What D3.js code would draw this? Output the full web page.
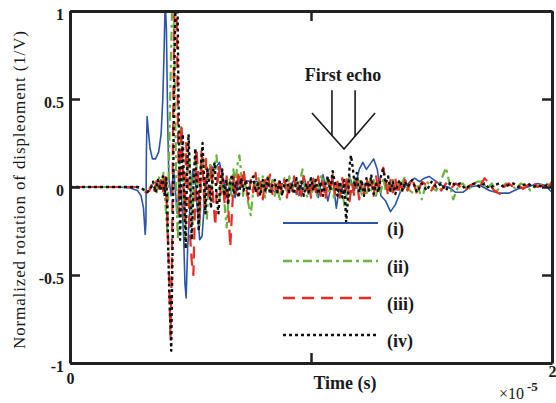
<!DOCTYPE html>
<html>
<head>
<meta charset="utf-8">
<script src="https://cdn.jsdelivr.net/npm/d3@7"></script>
<style>
  body { margin: 0; background: #fff; }
  text { font-family: "Liberation Serif", "Times New Roman", serif; fill: #1a1a1a; }
</style>
</head>
<body>
<svg id="chart" width="556" height="403"></svg>
<script>
// time in microseconds (axis shows units of 1e-5 s), normalized rotation (1/V)
var seriesI = [[0,0],[2.0,0],[2.5,-0.005],[2.8,-0.02],[2.95,-0.05],[3.05,-0.12],[3.12,-0.27],[3.15,-0.2],[3.17,0.2],[3.2,0.4],[3.25,0.32],[3.32,0.22],[3.42,0.16],[3.55,0.16],[3.68,0.2],[3.78,0.3],[3.85,0.5],[3.9,0.75],[3.95,1.05],[4.0,0.9],[4.05,0.4],[4.1,0.05],[4.2,-0.05],[4.3,0.1],[4.45,-0.15],[4.55,0.05],[4.65,-0.1],[4.72,-0.3],[4.77,-0.55],[4.82,-0.63],[4.88,-0.35],[5.0,-0.05],[5.1,0.1],[5.2,0.05],[5.3,-0.15],[5.38,-0.3],[5.48,-0.28],[5.6,-0.05],[5.7,0.08],[5.85,0.12],[6.0,0.1],[6.2,0.14],[6.35,0.05],[6.5,-0.05],[6.7,0.02],[6.85,-0.06],[7.0,0.03],[7.2,0.04],[7.5,0.03],[8.0,0.03],[8.3,0.0],[8.5,-0.03],[8.8,0.02],[9.0,-0.02],[9.3,0.04],[9.5,-0.05],[9.7,0.06],[9.9,-0.04],[10.1,0.05],[10.3,-0.06],[10.5,0.07],[10.7,-0.08],[10.9,0.05],[11.05,-0.12],[11.2,0.02],[11.4,-0.04],[11.6,0.06],[11.8,-0.02],[12.0,0.1],[12.15,0.14],[12.3,0.1],[12.45,0.13],[12.6,0.16],[12.75,0.1],[12.9,-0.05],[13.1,-0.08],[13.3,-0.14],[13.5,-0.1],[13.7,-0.03],[13.9,0.0],[14.1,0.03],[14.3,0.05],[14.5,0.03],[14.7,0.05],[14.9,0.06],[15.1,0.04],[15.4,0.01],[15.7,0.0],[16.0,-0.03],[16.3,-0.03],[16.6,0.0],[17.0,0.01],[17.4,-0.02],[17.8,-0.035],[18.2,-0.035],[18.6,-0.01],[19.0,0.0],[19.4,0.02],[19.7,0.01],[20,-0.03]];

var seriesII = [[0,0],[2.8,0],[3.0,-0.01],[3.2,-0.02],[3.35,0.0],[3.5,0.03],[3.6,-0.03],[3.7,0.06],[3.8,-0.02],[3.88,0.08],[3.96,-0.1],[4.04,-0.26],[4.1,0.1],[4.17,0.6],[4.24,1.05],[4.3,1.05],[4.36,0.5],[4.42,-0.1],[4.48,-0.3],[4.54,0.1],[4.6,0.35],[4.66,0.15],[4.72,-0.15],[4.78,-0.3],[4.85,0.05],[4.92,0.25],[5.0,0.05],[5.08,-0.2],[5.15,0.1],[5.22,0.2],[5.3,0.0],[5.38,-0.22],[5.45,0.05],[5.52,0.18],[5.6,-0.05],[5.68,-0.18],[5.75,0.05],[5.82,0.14],[5.9,-0.02],[5.97,0.1],[6.08,0.18],[6.15,0.05],[6.22,-0.08],[6.3,0.06],[6.38,-0.05],[6.5,-0.23],[6.56,-0.1],[6.62,0.05],[6.7,-0.06],[6.78,0.1],[6.86,0.02],[6.94,0.12],[7.03,0.18],[7.1,0.08],[7.18,-0.05],[7.26,0.04],[7.35,-0.06],[7.5,-0.16],[7.58,-0.05],[7.66,0.06],[7.74,-0.02],[7.82,0.05],[7.9,-0.04],[8.0,0.06],[8.1,-0.06],[8.2,0.07],[8.3,-0.02],[8.4,0.04],[8.5,-0.05],[8.6,0.02],[8.7,-0.08],[8.8,0.01],[8.9,0.05],[9.0,-0.03],[9.1,0.06],[9.2,-0.02],[9.35,0.03],[9.45,-0.04],[9.55,0.04],[9.65,0.1],[9.75,-0.02],[9.85,-0.06],[9.95,0.04],[10.05,-0.03],[10.15,0.04],[10.25,-0.05],[10.35,0.03],[10.45,0.07],[10.55,-0.02],[10.65,0.04],[10.75,-0.04],[10.85,0.02],[10.95,-0.06],[11.05,0.03],[11.15,-0.05],[11.25,0.02],[11.4,-0.12],[11.5,-0.02],[11.6,0.05],[11.7,-0.03],[11.8,0.04],[11.9,-0.02],[12.0,0.05],[12.1,-0.04],[12.2,0.02],[12.3,-0.05],[12.4,0.03],[12.5,-0.02],[12.6,0.04],[12.7,-0.05],[12.8,0.02],[12.9,-0.03],[13.0,0.05],[13.1,-0.02],[13.2,0.03],[13.3,-0.04],[13.4,0.04],[13.5,-0.02],[13.6,0.02],[13.7,-0.03],[13.8,0.03],[13.9,0.06],[14.0,-0.01],[14.2,-0.03],[14.4,0.02],[14.6,-0.07],[14.8,0.03],[15.0,0.0],[15.2,-0.02],[15.4,0.04],[15.6,0.11],[15.75,0.02],[15.9,-0.07],[16.1,0.0],[16.3,0.02],[16.5,-0.02],[16.7,0.01],[16.9,0.03],[17.1,0.03],[17.3,-0.01],[17.5,0.02],[17.7,-0.02],[17.9,0.0],[18.1,0.02],[18.3,0.01],[18.5,-0.01],[18.7,0.02],[18.9,0.01],[19.1,-0.02],[19.3,0.0],[19.5,0.01],[19.7,0.02],[20,0.01]];

var seriesIII = [[0,0],[2.8,0],[3.0,-0.015],[3.15,-0.03],[3.3,-0.02],[3.4,0.02],[3.5,-0.02],[3.6,0.04],[3.7,-0.01],[3.8,0.06],[3.88,-0.04],[3.95,0.08],[4.02,-0.12],[4.1,-0.45],[4.17,-0.85],[4.23,-0.4],[4.28,0.4],[4.34,1.05],[4.42,1.05],[4.48,0.35],[4.53,-0.15],[4.58,0.12],[4.63,0.35],[4.7,0.05],[4.76,-0.2],[4.82,0.25],[4.9,0.05],[4.97,-0.25],[5.05,-0.42],[5.12,-0.5],[5.18,-0.15],[5.25,0.22],[5.32,0.05],[5.38,-0.18],[5.45,0.2],[5.52,0.08],[5.58,-0.12],[5.65,0.16],[5.72,0.04],[5.8,-0.08],[5.87,0.12],[5.95,-0.08],[6.03,-0.22],[6.1,0.02],[6.18,0.12],[6.25,-0.04],[6.33,0.05],[6.42,-0.1],[6.5,0.06],[6.58,-0.15],[6.65,-0.34],[6.72,-0.15],[6.8,0.06],[6.9,-0.04],[7.0,0.09],[7.1,-0.02],[7.2,0.1],[7.3,0.0],[7.4,-0.07],[7.5,0.04],[7.6,-0.03],[7.7,0.08],[7.8,-0.05],[7.9,0.03],[8.0,-0.07],[8.1,0.04],[8.2,-0.02],[8.3,0.07],[8.4,-0.04],[8.5,0.02],[8.6,-0.05],[8.7,0.05],[8.8,-0.03],[8.9,0.04],[9.0,-0.06],[9.1,0.03],[9.2,-0.02],[9.3,0.06],[9.4,-0.04],[9.5,0.02],[9.6,-0.05],[9.7,0.06],[9.8,-0.02],[9.9,0.04],[10.0,-0.06],[10.1,0.05],[10.2,-0.03],[10.3,0.06],[10.4,-0.05],[10.5,0.03],[10.6,-0.07],[10.7,0.05],[10.8,-0.02],[10.9,0.07],[11.0,-0.04],[11.1,0.03],[11.2,-0.06],[11.3,0.05],[11.4,-0.03],[11.5,0.06],[11.6,-0.08],[11.7,0.02],[11.8,-0.05],[11.9,0.04],[12.0,-0.07],[12.1,0.03],[12.2,-0.04],[12.3,0.05],[12.4,-0.02],[12.5,0.04],[12.6,-0.05],[12.7,0.06],[12.8,-0.03],[12.9,0.08],[13.0,0.11],[13.1,0.03],[13.2,-0.05],[13.3,0.04],[13.4,-0.03],[13.5,0.05],[13.6,-0.04],[13.7,0.02],[13.8,-0.03],[13.9,0.04],[14.0,-0.02],[14.2,0.05],[14.4,-0.04],[14.6,0.03],[14.8,0.01],[15.0,-0.02],[15.2,0.03],[15.4,-0.02],[15.6,0.02],[15.8,-0.01],[16.0,0.02],[16.2,0.0],[16.4,-0.02],[16.6,0.01],[16.8,0.02],[17.0,0.0],[17.2,0.05],[17.4,0.02],[17.6,-0.02],[17.85,-0.04],[18.0,0.0],[18.2,0.02],[18.4,0.0],[18.6,0.01],[18.8,-0.01],[19.0,0.01],[19.2,0.03],[19.4,0.0],[19.6,0.01],[19.8,-0.01],[20,0.03]];

var seriesIV = [[0,0],[2.8,0],[3.0,-0.01],[3.2,-0.03],[3.35,-0.01],[3.45,0.03],[3.55,-0.03],[3.65,0.04],[3.75,-0.02],[3.85,0.06],[3.93,-0.05],[4.0,0.05],[4.05,-0.2],[4.12,-0.6],[4.2,-0.93],[4.26,-0.3],[4.32,0.6],[4.38,1.05],[4.46,1.05],[4.52,0.3],[4.57,-0.3],[4.62,0.05],[4.68,0.3],[4.74,-0.05],[4.8,-0.35],[4.86,0.1],[4.92,0.3],[4.98,0.05],[5.05,-0.3],[5.12,0.0],[5.2,0.22],[5.28,-0.05],[5.34,-0.25],[5.42,0.1],[5.5,0.25],[5.56,0.05],[5.62,-0.15],[5.7,0.1],[5.78,0.02],[5.85,-0.12],[5.92,0.08],[6.0,0.14],[6.08,-0.05],[6.16,-0.15],[6.24,0.02],[6.32,0.1],[6.4,-0.05],[6.48,0.04],[6.56,-0.1],[6.64,0.02],[6.72,0.07],[6.8,-0.04],[6.9,0.03],[7.0,-0.06],[7.1,0.05],[7.2,-0.02],[7.3,0.04],[7.4,-0.04],[7.5,0.03],[7.6,0.06],[7.7,-0.03],[7.8,0.02],[7.9,-0.05],[8.0,0.04],[8.1,-0.02],[8.2,0.05],[8.3,-0.04],[8.4,0.01],[8.5,0.04],[8.6,-0.03],[8.7,0.03],[8.8,-0.05],[8.9,0.02],[9.0,0.04],[9.1,-0.03],[9.2,0.02],[9.3,-0.04],[9.4,0.05],[9.5,-0.02],[9.6,0.03],[9.7,-0.05],[9.8,0.02],[9.9,-0.03],[10.0,0.05],[10.1,-0.02],[10.2,0.04],[10.3,-0.04],[10.4,0.03],[10.5,-0.05],[10.6,0.02],[10.7,0.06],[10.8,-0.02],[10.9,0.09],[11.0,0.02],[11.1,-0.05],[11.2,0.03],[11.3,-0.06],[11.38,0.04],[11.46,-0.2],[11.54,-0.05],[11.6,0.12],[11.66,0.18],[11.74,0.1],[11.82,0.0],[11.9,0.08],[12.0,-0.03],[12.1,0.04],[12.2,-0.05],[12.3,0.05],[12.4,-0.02],[12.5,0.07],[12.6,-0.04],[12.7,0.02],[12.8,-0.03],[12.9,0.06],[13.0,0.1],[13.1,0.02],[13.2,0.06],[13.3,-0.02],[13.4,0.03],[13.5,-0.04],[13.6,0.02],[13.7,0.04],[13.8,-0.02],[13.9,0.03],[14.0,0.0],[14.2,0.04],[14.4,-0.03],[14.6,0.02],[14.8,-0.02],[15.0,0.03],[15.2,0.0],[15.4,0.02],[15.6,-0.02],[15.8,0.03],[16.0,0.01],[16.2,0.02],[16.4,-0.01],[16.6,0.01],[16.8,0.02],[17.0,0.0],[17.2,0.02],[17.4,-0.01],[17.6,0.01],[17.8,0.02],[18.0,0.0],[18.2,0.01],[18.4,0.02],[18.6,0.0],[18.8,0.01],[19.0,0.02],[19.2,0.0],[19.4,0.01],[19.6,0.0],[19.8,0.01],[20,0.0]];

var legendLabels = ["(i)", "(ii)", "(iii)", "(iv)"];
var yTicks = [-1, -0.5, 0, 0.5, 1];
var xTicks = [0, 10, 20];
var xTickLabels = ["0", "", "2"];

var width = 556, height = 403;
var plotL = 70, plotR = 552, plotT = 11, plotB = 363;

var svg = d3.select('#chart');

var x = d3.scaleLinear().domain([0, 20]).range([plotL, plotR]);
var y = d3.scaleLinear().domain([-1, 1]).range([plotB, plotT]);

var styles = [
  { color: '#2b55a6', w: 1.6, dash: null },
  { color: '#6cb33f', w: 2.2, dash: '9,4,3,4' },
  { color: '#ec2b24', w: 2.2, dash: '12,7' },
  { color: '#111111', w: 2.4, dash: '3,3' }
];
var allSeries = [seriesI, seriesII, seriesIII, seriesIV];

svg.append('clipPath').attr('id', 'plotclip')
  .append('rect')
  .attr('x', plotL).attr('y', plotT)
  .attr('width', plotR - plotL).attr('height', plotB - plotT);

var line = d3.line()
  .x(function (d) { return x(d[0]); })
  .y(function (d) { return y(d[1]); });

var g = svg.append('g').attr('clip-path', 'url(#plotclip)');
allSeries.forEach(function (s, i) {
  g.append('path')
    .datum(s)
    .attr('d', line)
    .attr('fill', 'none')
    .attr('stroke', styles[i].color)
    .attr('stroke-width', styles[i].w)
    .attr('stroke-dasharray', styles[i].dash)
    .attr('stroke-linejoin', 'round');
});

// axes, MATLAB style: ticks inside, frame on all sides
var fmtY = function (d) { return String(d); };
var yAxisL = svg.append('g').attr('transform', 'translate(' + plotL + ',0)')
  .call(d3.axisLeft(y).tickValues(yTicks).tickFormat(fmtY).tickSizeInner(-10).tickSizeOuter(0).tickPadding(6));
var yAxisR = svg.append('g').attr('transform', 'translate(' + plotR + ',0)')
  .call(d3.axisRight(y).tickValues(yTicks).tickFormat('').tickSizeInner(-10).tickSizeOuter(0));
var xAxisB = svg.append('g').attr('transform', 'translate(0,' + plotB + ')')
  .call(d3.axisBottom(x).tickValues(xTicks).tickFormat(function (d, i) { return xTickLabels[i]; }).tickSizeInner(-10).tickSizeOuter(0).tickPadding(10));
var xAxisT = svg.append('g').attr('transform', 'translate(0,' + plotT + ')')
  .call(d3.axisTop(x).tickValues(xTicks).tickFormat('').tickSizeInner(-10).tickSizeOuter(0));

[yAxisL, yAxisR, xAxisB, xAxisT].forEach(function (a) {
  a.selectAll('.domain').attr('stroke', '#222').attr('stroke-width', 3);
  a.selectAll('.tick line').attr('stroke', '#222').attr('stroke-width', 2.5);
  a.selectAll('.tick text')
    .style('font-family', '"Liberation Serif", serif')
    .style('font-size', '16px')
    .style('font-weight', 'bold')
    .attr('fill', '#1a1a1a');
});
yAxisL.selectAll('.tick text').attr('dy', '0.55em');
// the "2" sits higher than the "0"
xAxisB.selectAll('.tick text').filter(function (d) { return d === 20; }).attr('y', 3);

svg.append('text')
  .attr('x', plotR - 53).attr('y', 399)
  .style('font-size', '16px')
  .text('\u00d710');
svg.append('text')
  .attr('x', plotR - 25).attr('y', 391)
  .style('font-size', '13px')
  .style('font-weight', 'bold')
  .text('-5');

svg.append('text')
  .attr('x', 345).attr('y', 389)
  .attr('text-anchor', 'middle')
  .style('font-size', '18px')
  .style('font-weight', 'bold')
  .text('Time (s)');

svg.append('text')
  .attr('transform', 'translate(25,190) rotate(-90)')
  .attr('text-anchor', 'middle')
  .attr('textLength', 318)
  .attr('lengthAdjust', 'spacing')
  .style('font-size', '17px')
  .text('Normalized rotation of displeoment (1/V)');

// First echo annotation (data coordinates)
var echoWings = [[10.04, 0.42], [11.37, 0.216], [12.66, 0.42]];
var echoShafts = [[10.87, 0.55], [11.83, 0.55]];
function wingY(t) {
  var a = t < echoWings[1][0] ? echoWings[0] : echoWings[2], b = echoWings[1];
  return a[1] + (t - a[0]) / (b[0] - a[0]) * (b[1] - a[1]);
}
svg.append('path')
  .datum(echoWings)
  .attr('d', line)
  .attr('fill', 'none').attr('stroke', '#1a1a1a').attr('stroke-width', 1.6);
echoShafts.forEach(function (s) {
  svg.append('line')
    .attr('x1', x(s[0])).attr('y1', y(s[1]))
    .attr('x2', x(s[0])).attr('y2', y(wingY(s[0])))
    .attr('stroke', '#1a1a1a').attr('stroke-width', 1.6);
});
svg.append('text')
  .attr('x', x(11.33)).attr('y', y(0.6))
  .attr('text-anchor', 'middle')
  .style('font-size', '18px')
  .style('font-weight', 'bold')
  .text('First echo');

// legend
var legY = [223, 261, 298, 335];
legendLabels.forEach(function (lab, i) {
  var row = svg.append('g').attr('transform', 'translate(0,' + legY[i] + ')');
  row.append('line')
    .attr('x1', 283).attr('x2', 378).attr('y1', 0).attr('y2', 0)
    .attr('stroke', styles[i].color)
    .attr('stroke-width', styles[i].w + 0.3)
    .attr('stroke-dasharray', styles[i].dash);
  row.append('text')
    .attr('x', 387).attr('y', 12)
    .style('font-size', '18px')
    .style('font-weight', 'bold')
    .text(lab);
});
</script>
</body>
</html>
